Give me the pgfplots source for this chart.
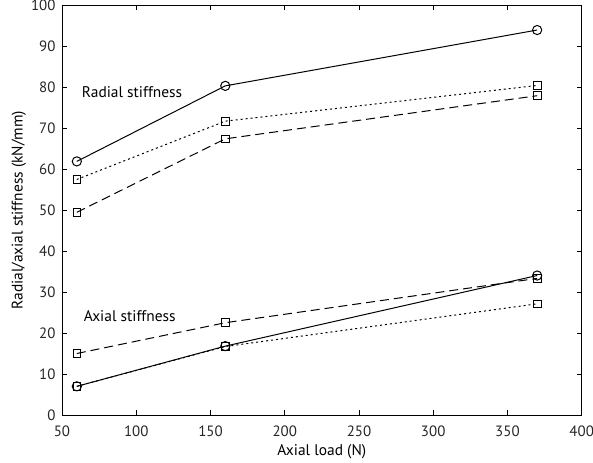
\documentclass[border=0pt]{standalone}
\usepackage{pgfplots}
\pgfplotsset{compat=1.18}
\usepackage{fontspec}
\setmainfont{PT Sans}
\begin{document}
\begin{tikzpicture}
\begin{axis}[
  name=ax,
  scale only axis,
  width=520bp, height=410.7bp,
  xmin=50, xmax=400, ymin=0, ymax=100,
  xtick={50,100,...,400}, ytick={0,10,...,100},
  tick align=inside, tick pos=both,
  major tick length=5bp,
  axis line style={line width=0.9pt},
  tick style={line width=0.6pt,black},
  /pgf/number format/assume math mode=true,
  ticklabel style={font=\fontsize{15}{17}\selectfont, color=black!85},
  xticklabel style={yshift=-6.5bp},
  yticklabel style={xshift=-3bp},
  label style={font=\fontsize{15.5}{18}\selectfont},
  xlabel={Axial load (N)},
  ylabel={Radial/axial stiffness (kN/mm)},
  xlabel style={at={(axis description cs:0.5,-0.088)}, anchor=center},
  ylabel style={at={(axis description cs:-0.083,0.5)}, anchor=center},
  clip=false,
]
% Radial
\addplot[black, line width=1pt, mark=o, mark size=4.6bp, mark options={solid, line width=1pt}]
  coordinates {(60,61.9) (160,80.3) (370,93.9)};
\addplot[black, line width=1pt, dash pattern=on 2bp off 3bp, mark=square, mark size=3.8bp, mark options={solid, line width=0.9pt}]
  coordinates {(60,57.5) (160,71.7) (370,80.4)};
\addplot[black, line width=1pt, dash pattern=on 9bp off 5bp, mark=square, mark size=3.8bp, mark options={solid, line width=0.9pt}]
  coordinates {(60,49.5) (160,67.4) (370,77.9)};
% Axial
\addplot[black, line width=1pt, mark=o, mark size=4.6bp, mark options={solid, line width=1pt}]
  coordinates {(60,7.1) (160,16.9) (370,34.1)};
\addplot[black, line width=1pt, dash pattern=on 9bp off 5bp, mark=square, mark size=3.8bp, mark options={solid, line width=0.9pt}]
  coordinates {(60,15.1) (160,22.6) (370,33.4)};
\addplot[black, line width=1pt, dash pattern=on 2bp off 3bp, mark=square, mark size=3.8bp, mark options={solid, line width=0.9pt}]
  coordinates {(60,7.1) (160,16.8) (370,27.2)};
\node[anchor=west, font=\fontsize{15.5}{18}\selectfont] at (axis cs:61,78.7) {Radial stiffness};
\node[anchor=west, font=\fontsize{15.5}{18}\selectfont] at (axis cs:62.3,24.1) {Axial stiffness};
\end{axis}
\pgfresetboundingbox
\useasboundingbox ([xshift=-62bp,yshift=-47.3bp]ax.south west) rectangle ([xshift=11.3bp,yshift=5bp]ax.north east);
\end{tikzpicture}
\end{document}
